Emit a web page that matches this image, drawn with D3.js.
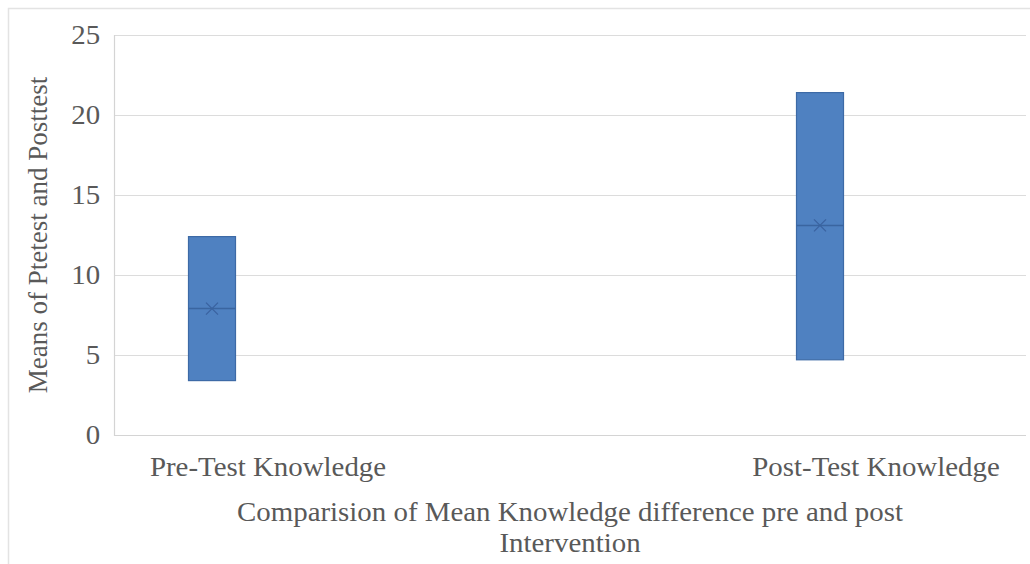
<!DOCTYPE html>
<html>
<head>
<meta charset="utf-8">
<script src="https://cdn.jsdelivr.net/npm/d3@7"></script>
<style>
  body { margin: 0; background: #fff; }
  text { font-family: "Liberation Serif", "Times New Roman", serif; fill: #595959; }
</style>
</head>
<body>
<div id="chart"></div>
<script>
// data
var categories = ['Pre-Test Knowledge', 'Post-Test Knowledge'];
var boxLow = [3.4, 4.7];
var boxHigh = [12.4, 21.4];
var medians = [7.9, 13.1];
var means = [7.9, 13.1];
var yTicks = [0, 5, 10, 15, 20, 25];

const width = 1030, height = 564;
const plot = {left: 114, right: 1026, top: 35, bottom: 435};
const fontSize = '27px';
const stretch = 1.07; // text in the picture is a bit wider than the font

var svg = d3.select('#chart').append('svg')
  .attr('width', width)
  .attr('height', height);

// outer frame
svg.append('path')
  .attr('d', `M8.5,${height} V8.5 H${width}`)
  .attr('fill', 'none')
  .attr('stroke', '#e3e3e3')
  .attr('stroke-width', 1.5);

var y = d3.scaleLinear().domain([0, 25]).range([plot.bottom, plot.top]);
var x = d3.scalePoint().domain(categories).range([268, 876]);
const boxW = 47, boxShift = -56;

// grid lines
svg.selectAll('line.grid')
  .data(yTicks.filter(d => d > 0))
  .enter()
  .append('line')
  .attr('class', 'grid')
  .attr('x1', plot.left).attr('x2', plot.right)
  .attr('y1', d => y(d) + 0.5).attr('y2', d => y(d) + 0.5)
  .attr('stroke', '#dcdcdc').attr('stroke-width', 1);

// axis lines
svg.append('path')
  .attr('d', `M${plot.left + 0.5},${plot.top} V${y(0) + 0.5} H${plot.right}`)
  .attr('fill', 'none')
  .attr('stroke', '#d4d4d4')
  .attr('stroke-width', 1.2);

// y tick labels
var yAxis = d3.axisLeft(y).tickValues(yTicks).tickSize(0).tickPadding(13);
var gy = svg.append('g')
  .attr('transform', `translate(${plot.left}, 0)`)
  .call(yAxis);
gy.select('.domain').remove();
gy.selectAll('text')
  .style('font-family', '"Liberation Serif", serif')
  .style('font-size', fontSize)
  .attr('fill', '#595959')
  .attr('dy', '0.33em')
  .attr('transform', `scale(${stretch},1)`);

// boxes
var idx = d3.range(categories.length);
svg.selectAll('rect.box')
  .data(idx)
  .enter()
  .append('rect')
  .attr('class', 'box')
  .attr('x', i => x(categories[i]) + boxShift - boxW / 2)
  .attr('width', boxW)
  .attr('y', i => y(boxHigh[i]))
  .attr('height', i => y(boxLow[i]) - y(boxHigh[i]))
  .attr('fill', '#4f81c1')
  .attr('stroke', '#3d6aa6')
  .attr('stroke-width', 1.2);

// median lines
svg.selectAll('line.median')
  .data(idx)
  .enter()
  .append('line')
  .attr('x1', i => x(categories[i]) + boxShift - boxW / 2)
  .attr('x2', i => x(categories[i]) + boxShift + boxW / 2)
  .attr('y1', i => y(medians[i]))
  .attr('y2', i => y(medians[i]))
  .attr('stroke', '#3a65a0')
  .attr('stroke-width', 1.5);

// mean markers
svg.selectAll('path.mean')
  .data(idx)
  .enter()
  .append('path')
  .attr('transform', i => `translate(${x(categories[i]) + boxShift}, ${y(means[i])})`)
  .attr('d', 'M-6,-6L6,6M-6,6L6,-6')
  .attr('stroke', '#3a63a0')
  .attr('stroke-width', 1.3);

// helper for stretched horizontal text
function label(tx, ty, str) {
  svg.append('text')
    .attr('transform', `translate(${tx}, ${ty}) scale(${stretch},1)`)
    .attr('text-anchor', 'middle')
    .style('font-size', fontSize)
    .text(str);
}

// category labels
categories.forEach(function(c) {
  label(x(c), 476, c);
});

// axis titles
label(570, 521, 'Comparision of Mean Knowledge difference pre and post');
label(570, 552, 'Intervention');
svg.append('text')
  .attr('transform', 'translate(47, 235) rotate(-90)')
  .attr('text-anchor', 'middle')
  .style('font-size', fontSize)
  .text('Means of Ptetest and Posttest');
</script>
</body>
</html>
